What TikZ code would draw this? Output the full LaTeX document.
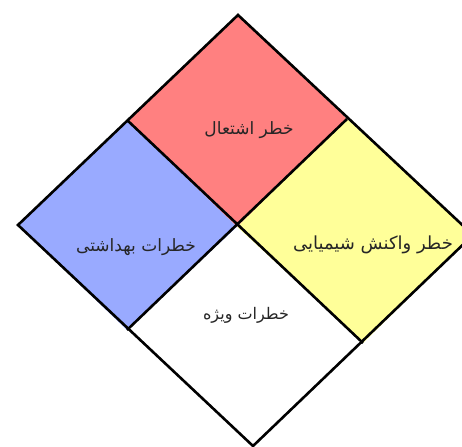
\documentclass[tikz,border=0pt]{standalone}
\usepackage{fontspec}
\newfontfamily\farsifont[Script=Arabic]{DejaVu Sans}
\TeXXeTstate=1
\usetikzlibrary{positioning}
\definecolor{hazardred}{RGB}{255,128,128}
\definecolor{hazardblue}{RGB}{153,170,255}
\definecolor{hazardyellow}{RGB}{255,255,153}
\tikzset{
 hazardedge/.style={draw=black,line width=2.6pt},
 hazardtext/.style={font=\farsifont\fontsize{17}{19}\selectfont,text=black!85,inner sep=1pt}
}

\begin{document}
\begin{tikzpicture}[x=1pt,y=-1pt,line join=miter]
 \useasboundingbox (0,0) rectangle (462,446);
 \coordinate (top) at (238,15); \coordinate (lft) at (18,225);
 \coordinate (rgt) at (473,235); \coordinate (bot) at (253,446);
 \coordinate (ul) at (127,120); \coordinate (ur) at (347,119);
 \coordinate (ll) at (127,330); \coordinate (lr) at (363,343);
 \coordinate (mid) at (237,227);
 \fill[hazardred] (top)--(ur)--(mid)--(ul)--cycle;
 \fill[hazardblue] (ul)--(mid)--(ll)--(lft)--cycle;
 \fill[hazardyellow] (ur)--(rgt)--(lr)--(mid)--cycle;
 \fill[white] (mid)--(lr)--(bot)--(ll)--cycle;
 \draw[hazardedge] (top)--(rgt)--(bot)--(lft)--cycle;
 \draw[hazardedge] (ul)--(lr);
 \draw[hazardedge] (ur)--(ll);
 \node[hazardtext] (fire) at (249,130) {\beginR خطر اشتعال\endR};
 \node[hazardtext] (health) at (136,247) {\beginR خطرات بهداشتی\endR};
 \node[hazardtext,font=\farsifont\fontsize{18}{20}\selectfont] (react) at (373,245) {\beginR خطر واکنش شیمیایی\endR};
 \node[hazardtext,font=\farsifont\fontsize{16}{18}\selectfont] (special) at (246,315) {\beginR خطرات ویژه\endR};
\end{tikzpicture}
\end{document}
